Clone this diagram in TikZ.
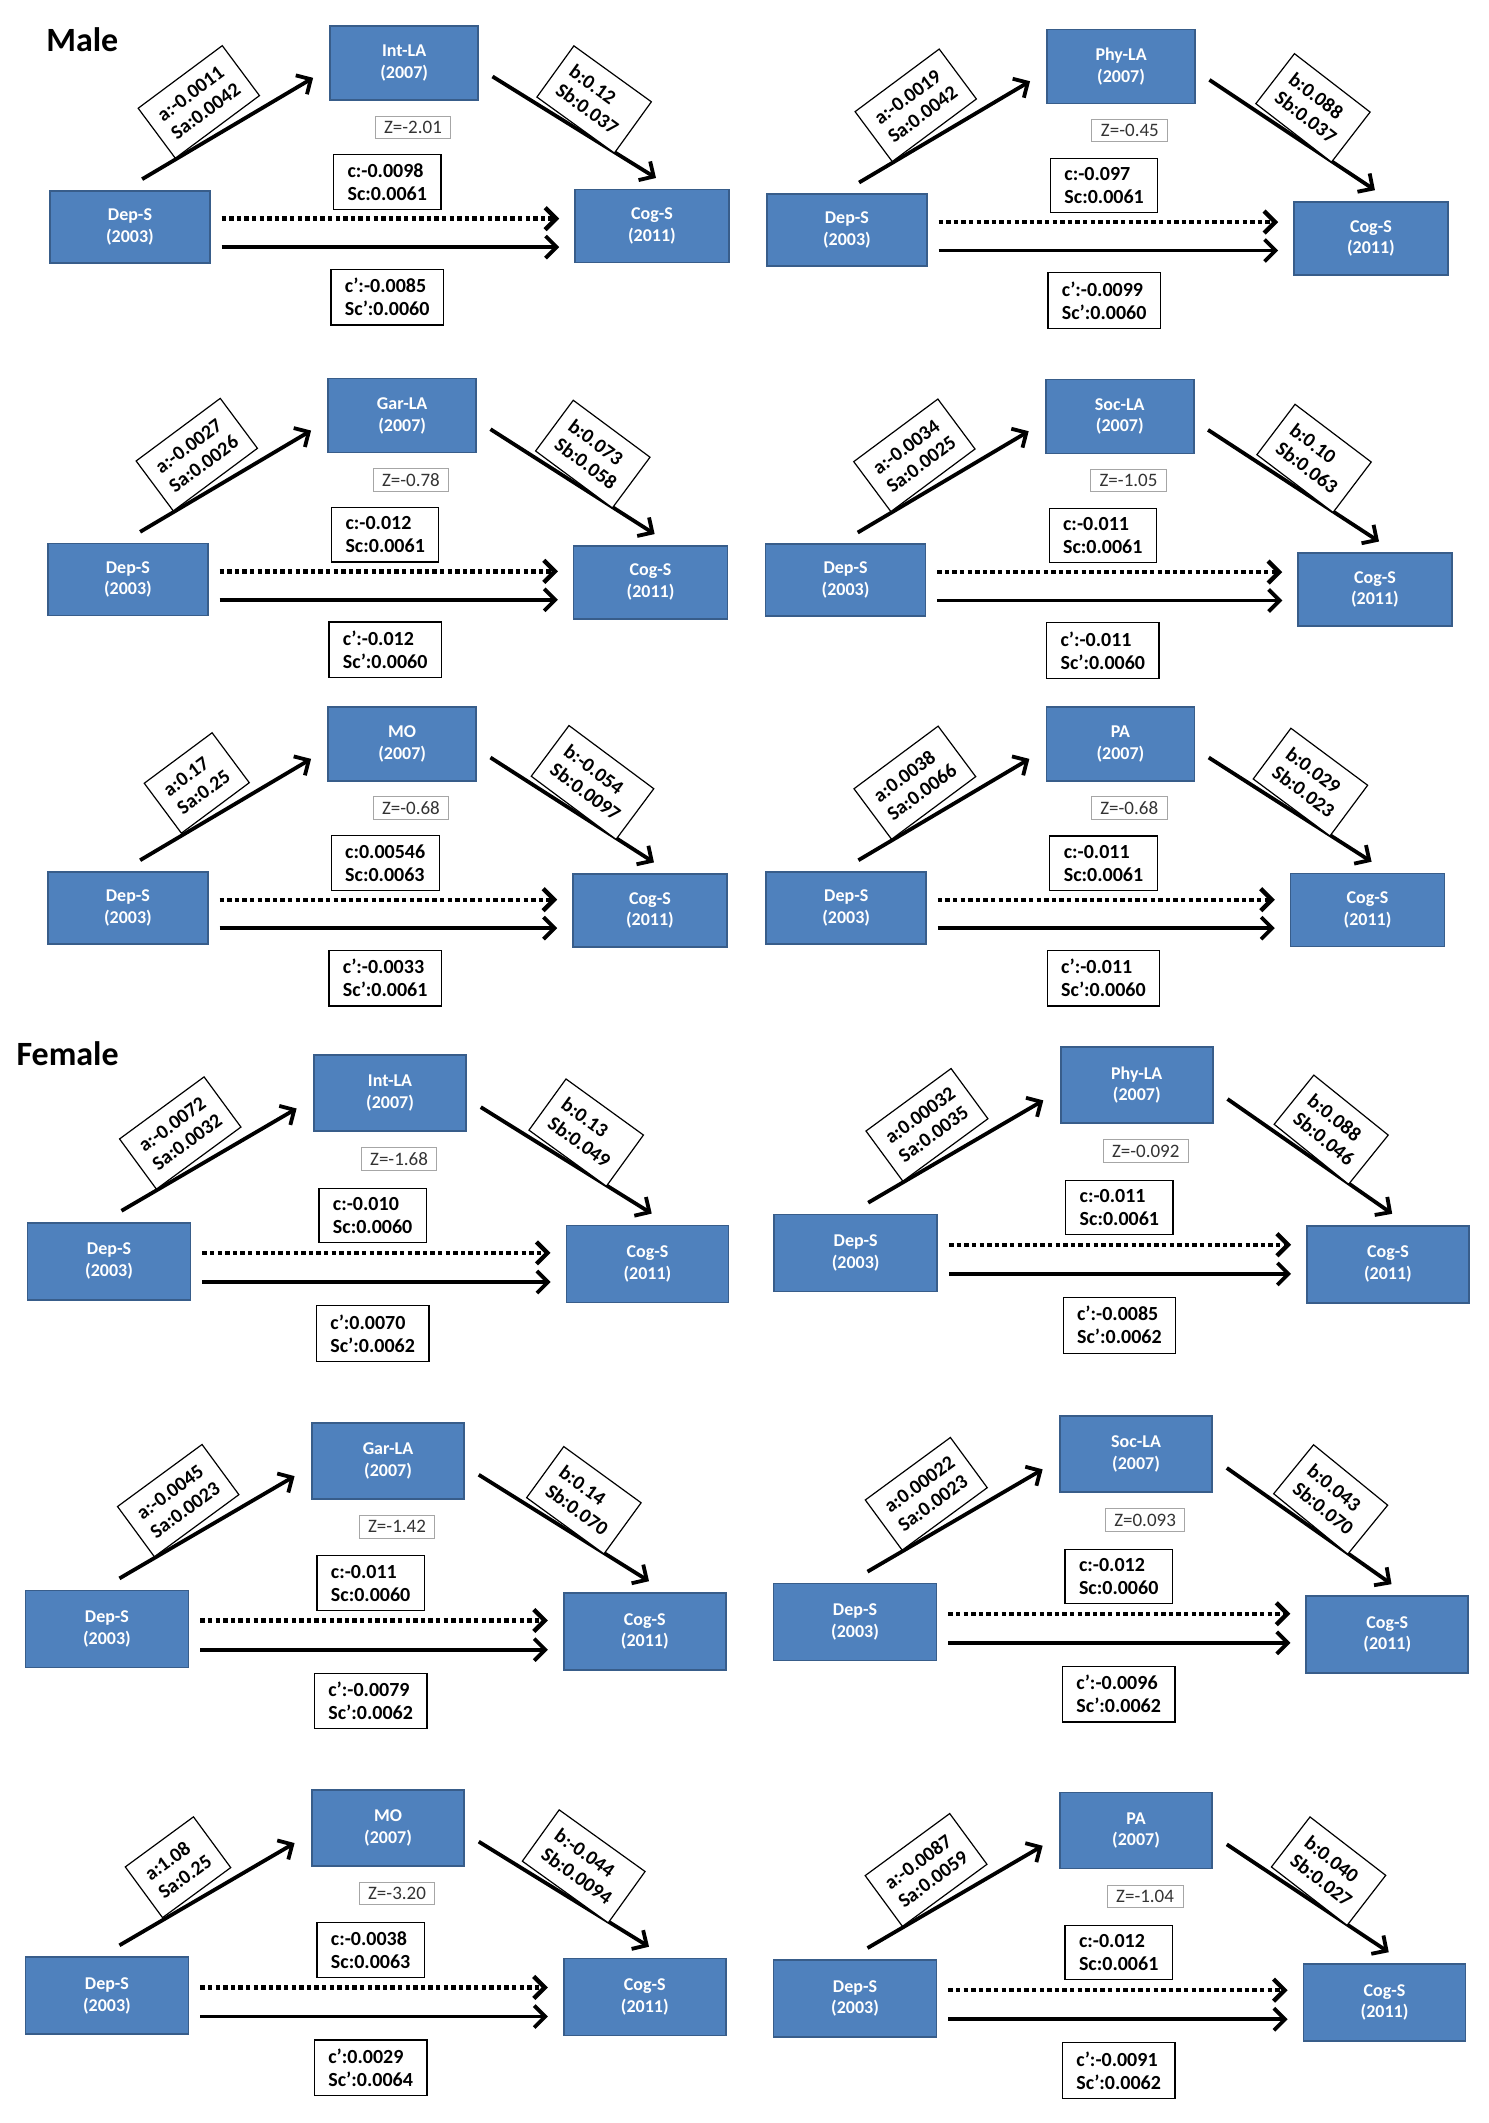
\documentclass[tikz,border=0pt]{standalone}
\usepackage{fontspec}
\setmainfont{Carlito}
\usetikzlibrary{arrows.meta, positioning}

\definecolor{boxblue}{HTML}{4F81BD}
\definecolor{boxedge}{HTML}{385D8A}

\def\pscale{1}
% one mediation panel: prefix, origin, Cog-S offset, mediator, a, b, Z, c, c'
\newcommand{\mediationpanel}[9]{%
  \begin{scope}[shift={#2}, scale=\pscale, name prefix=#1-]
    % place nodes
    \node[depbox] (dep) at (0,0) {Dep-S\\(2003)};
    \node[medbox] (med) at (202.5,-121) {#4\\(2007)};
    \node[cogbox] (cog) at #3 {Cog-S\\(2011)};
    \node[zbox] (z) at (209,-73.5) {#7};
    \node[coefbox] (c) at (190,-33) {#8};
    \node[coefbox] (cp) at (190,52) {#9};
    \coordinate (tip) at (dep.east -| cog.west);

    % Connections
    \draw[arr] ([shift={(9,-8)}]dep.north) -- node[slopebox,sloped,above=3pt,pos=.46,rotate=6] (a) {#5} ([shift={(-12,11)}]med.west);
    \draw[arr] ([shift={(10,10)}]med.east) -- node[slopebox,sloped,above=1pt,pos=.5,rotate=-4] (b) {#6} ([shift={(3,-8)}]cog.north);
    \draw[dotarr] ([shift={(8,-6)}]dep.east) -- ([shift={(-11,-6)}]tip);
    \draw[arr] ([shift={(8,15)}]dep.east) -- ([shift={(-11,15)}]tip);
  \end{scope}}

\begin{document}
\begin{tikzpicture}[x=0.677pt, y=-0.677pt]
    \tikzstyle{every node} = [font=\fontsize{10}{11.5}\selectfont]
    \tikzstyle{var} = [draw=boxedge, line width=0.8pt, fill=boxblue, text=white, align=center, font=\fontsize{9}{10.8}\selectfont\bfseries]
    \tikzstyle{depbox} = [var, minimum width=80pt, minimum height=36pt]
    \tikzstyle{medbox} = [var, minimum width=74pt, minimum height=37pt]
    \tikzstyle{cogbox} = [var, minimum width=77pt, minimum height=36.5pt]
    \tikzstyle{zbox} = [draw=black!35, line width=0.5pt, text=black!80, inner xsep=4.5pt, inner ysep=2.5pt, font=\fontsize{9.5}{11}\selectfont]
    \tikzstyle{coefbox} = [draw, line width=0.6pt, fill=white, align=left, inner xsep=7pt, inner ysep=4.5pt, font=\fontsize{10}{11.5}\selectfont\bfseries]
    \tikzstyle{slopebox} = [coefbox, inner xsep=6pt, inner ysep=6.5pt]
    \tikzstyle{arr} = [line width=1.9pt, -{Straight Barb[length=5.5pt, width=11pt]}]
    \tikzstyle{dotarr} = [arr, line width=2.2pt, dash pattern=on 2.2pt off 1.6pt]

    \useasboundingbox (0,0) rectangle (1099,1568);

    % Male
    \node[anchor=west, font=\fontsize{17}{20}\selectfont\bfseries] (male) at (29,29) {Male};
    \mediationpanel{m1}{(96,167.5)}{(385.5,-0.5)}{Int-LA}{a:-0.0011\\Sa:0.0042}{b:0.12\\Sb:0.037}{Z=-2.01}{c:-0.0098\\Sc:0.0061}{c':-0.0085\\Sc':0.0060}
    \mediationpanel{m2}{(625.5,170)}{(387,6)}{Phy-LA}{a:-0.0019\\Sa:0.0042}{b:0.088\\Sb:0.037}{Z=-0.45}{c:-0.097\\Sc:0.0061}{c':-0.0099\\Sc':0.0060}
    \mediationpanel{m3}{(94.5,428)}{(386,2)}{Gar-LA}{a:-0.0027\\Sa:0.0026}{b:0.073\\Sb:0.058}{Z=-0.78}{c:-0.012\\Sc:0.0061}{c':-0.012\\Sc':0.0060}
    \mediationpanel{m4}{(624.5,428.5)}{(391,7)}{Soc-LA}{a:-0.0034\\Sa:0.0025}{b:0.10\\Sb:0.063}{Z=-1.05}{c:-0.011\\Sc:0.0061}{c':-0.011\\Sc':0.0060}
    \mediationpanel{m5}{(94.5,670.5)}{(385.5,2)}{MO}{a:0.17\\Sa:0.25}{b:-0.054\\Sb:0.0097}{Z=-0.68}{c:0.00546\\Sc:0.0063}{c':-0.0033\\Sc':0.0061}
    \mediationpanel{m6}{(625,670.5)}{(385,1.5)}{PA}{a:0.0038\\Sa:0.0066}{b:0.029\\Sb:0.023}{Z=-0.68}{c:-0.011\\Sc:0.0061}{c':-0.011\\Sc':0.0060}

    % Female
    \node[anchor=west, font=\fontsize{17}{20}\selectfont\bfseries] (female) at (7,778) {Female};
    \begin{scope}
    \def\pscale{1.025}
    \tikzstyle{depbox} = [var, minimum width=81.5pt, minimum height=38.5pt]
    \tikzstyle{medbox} = [var, minimum width=76pt, minimum height=38pt]
    \tikzstyle{cogbox} = [var, minimum width=81pt, minimum height=38.5pt]
    \mediationpanel{f1}{(80.5,931.5)}{(388,2)}{Int-LA}{a:-0.0072\\Sa:0.0032}{b:0.13\\Sb:0.049}{Z=-1.68}{c:-0.010\\Sc:0.0060}{c':0.0070\\Sc':0.0062}
    \mediationpanel{f2}{(632,925.5)}{(383.5,8)}{Phy-LA}{a:0.00032\\Sa:0.0035}{b:0.088\\Sb:0.046}{Z=-0.092}{c:-0.011\\Sc:0.0061}{c':-0.0085\\Sc':0.0062}
    \mediationpanel{f3}{(79,1203)}{(387.5,2)}{Gar-LA}{a:-0.0045\\Sa:0.0023}{b:0.14\\Sb:0.070}{Z=-1.42}{c:-0.011\\Sc:0.0060}{c':-0.0079\\Sc':0.0062}
    \mediationpanel{f4}{(631.5,1198)}{(383.5,9)}{Soc-LA}{a:0.00022\\Sa:0.0023}{b:0.043\\Sb:0.070}{Z=0.093}{c:-0.012\\Sc:0.0060}{c':-0.0096\\Sc':0.0062}
    \mediationpanel{f5}{(79,1474)}{(387.5,1)}{MO}{a:1.08\\Sa:0.25}{b:-0.044\\Sb:0.0094}{Z=-3.20}{c:-0.0038\\Sc:0.0063}{c':0.0029\\Sc':0.0064}
    \mediationpanel{f6}{(631.5,1476)}{(381.5,3)}{PA}{a:-0.0087\\Sa:0.0059}{b:0.040\\Sb:0.027}{Z=-1.04}{c:-0.012\\Sc:0.0061}{c':-0.0091\\Sc':0.0062}
    \end{scope}
\end{tikzpicture}
\end{document}
